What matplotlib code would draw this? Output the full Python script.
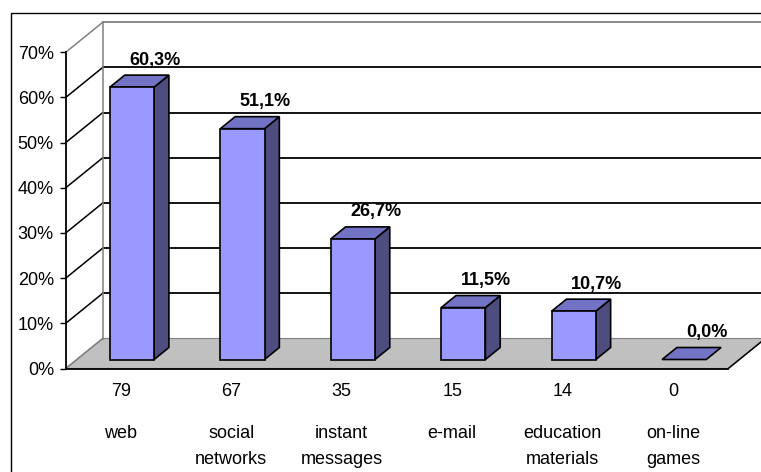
import matplotlib
matplotlib.use("Agg")
import matplotlib.pyplot as plt
from matplotlib.patches import Polygon, Rectangle

# ---- data ----
categories = ["web", "social\nnetworks", "instant\nmessages", "e-mail",
              "education\nmaterials", "on-line\ngames"]
counts = [79, 67, 35, 15, 14, 0]
percents = [60.3, 51.1, 26.7, 11.5, 10.7, 0.0]
yticks = [0, 10, 20, 30, 40, 50, 60, 70]

# ---- styles ----
W, H = 761, 472
FRONT = "#9999FF"
TOP = "#7373C6"
SIDE = "#4D4D80"
FLOOR = "#C0C0C0"
FONT = "Liberation Sans"
FS = 13

plt.rcParams['font.family'] = [FONT, 'DejaVu Sans']

fig = plt.figure(figsize=(W / 100, H / 100), dpi=100)
fig.patch.set_facecolor("white")

# front plane axes (pixels)
x0p, x1p = 65.7, 728.3
y0p, y1p = 368.5, 52.3
ax = fig.add_axes([x0p / W, (H - y0p) / H, (x1p - x0p) / W, (y0p - y1p) / H])
n = len(categories)
ax.set_xlim(0, n)
ax.set_ylim(0, 70)
ax.patch.set_visible(False)

px_x = n / (x1p - x0p)          # category units per pixel
px_y = 70 / (y0p - y1p)         # percent per pixel
DX = 37 * px_x                  # full depth offset (data units)
DY = 30 * px_y


def P(x, y, z):
    return (x + z * DX, y + z * DY)


# outer frame
fig.add_artist(Rectangle((10.5 / W, -0.05), 1.2, 1 - 12.5 / H + 0.05,
                         transform=fig.transFigure, fill=False,
                         edgecolor="black", linewidth=1.0))

# floor
floor = Polygon([P(0, 0, 0), P(n, 0, 0), P(n, 0, 1), P(0, 0, 1)],
                closed=True, facecolor=FLOOR, edgecolor="#808080",
                linewidth=0.8, clip_on=False, zorder=1)
ax.add_patch(floor)
# floor front & right edges
ax.plot([0, n], [0, 0], color="black", lw=1.3, clip_on=False, zorder=2)
ax.plot(*zip(P(n, 0, 0), P(n, 0, 1)), color="black", lw=1.1,
        clip_on=False, zorder=2)

# back wall gridlines and left wall lines
for v in yticks:
    col = "#808080" if v in (0, 70) else "black"
    if v > 0:
        ax.plot(*zip(P(0, v, 1), P(n, v, 1)), color=col, lw=1.3,
                clip_on=False, zorder=1.5)
    ax.plot(*zip(P(0, v, 0), P(0, v, 1)), color=col, lw=1.1,
            clip_on=False, zorder=1.5)
# back wall left edge
ax.plot(*zip(P(0, 0, 1), P(0, 70, 1)), color="#808080", lw=1.1,
        clip_on=False, zorder=1.5)

# bars
bw = 0.4
z0, z1 = 0.3, 0.7
for i, v in enumerate(percents):
    xc = i + 0.5
    xa, xb = xc - bw / 2, xc + bw / 2
    if v > 0:
        front = Polygon([P(xa, 0, z0), P(xb, 0, z0), P(xb, v, z0), P(xa, v, z0)],
                        facecolor=FRONT, edgecolor="black", lw=1.2,
                        clip_on=False, zorder=5)
        side = Polygon([P(xb, 0, z0), P(xb, 0, z1), P(xb, v, z1), P(xb, v, z0)],
                       facecolor=SIDE, edgecolor="black", lw=1.2,
                       clip_on=False, zorder=4)
        ax.add_patch(side)
        ax.add_patch(front)
    top = Polygon([P(xa, v, z0), P(xb, v, z0), P(xb, v, z1), P(xa, v, z1)],
                  facecolor=TOP, edgecolor="black", lw=1.2,
                  clip_on=False, zorder=4)
    ax.add_patch(top)
    # value label
    ax.annotate(f"{v:.1f}%".replace(".", ","), xy=P(xc, v, z1),
                xytext=(8, 15), textcoords="offset pixels",
                ha="center", va="center", fontsize=FS, fontweight="bold",
                annotation_clip=False, zorder=6)
    # count and category labels
    ax.annotate(str(counts[i]), xy=(xc, 0), xytext=(0, -23.5),
                textcoords="offset pixels", ha="center", va="center",
                fontsize=FS, annotation_clip=False)
    lines = categories[i].split("\n")
    for k, line in enumerate(lines):
        ax.annotate(line, xy=(xc, 0), xytext=(0, -65 - 26 * k),
                    textcoords="offset pixels", ha="center", va="center",
                    fontsize=FS, annotation_clip=False)

# y axis
for s in ("top", "right", "bottom"):
    ax.spines[s].set_visible(False)
ax.spines["left"].set_color("black")
ax.spines["left"].set_linewidth(1.3)
ax.spines["left"].set_zorder(3)
ax.set_yticks(yticks)
ax.set_yticklabels([f"{v}%" for v in yticks])
ax.tick_params(axis="y", direction="out", length=4.5, width=1.0, pad=4,
               labelsize=FS)
ax.set_xticks([])

fig.savefig("out.png", dpi=100)
